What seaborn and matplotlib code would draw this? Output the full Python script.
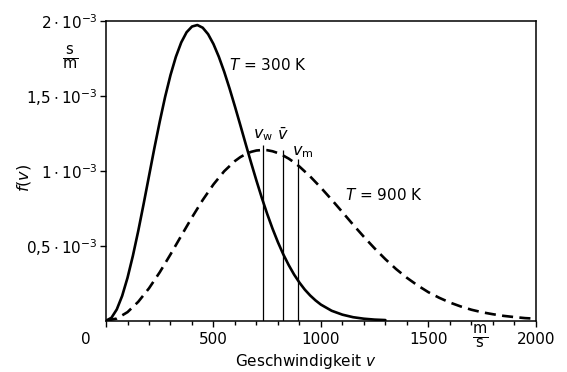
import matplotlib
matplotlib.use("Agg")
import matplotlib.pyplot as plt
import matplotlib.transforms as mtransforms
import seaborn as sns

sns.set_theme(style="ticks")
plt.rcParams["font.family"] = ["DejaVu Sans"]
plt.rcParams["mathtext.fontset"] = "dejavusans"
plt.rcParams["text.color"] = "black"

# speeds in m/s
v_300 = [0, 25, 50, 75, 100, 125, 150, 175, 200, 225, 250, 275, 300, 325, 350, 375,
         400, 425, 450, 475, 500, 525, 550, 575, 600, 625, 650, 675, 700, 725, 750,
         775, 800, 825, 850, 875, 900, 925, 950, 975, 1000, 1050, 1100, 1150, 1200,
         1250, 1300]
f_300 = [0, 0.019, 0.075, 0.165, 0.286, 0.433, 0.599, 0.779, 0.965, 1.151, 1.328,
         1.493, 1.638, 1.760, 1.856, 1.924, 1.962, 1.972, 1.954, 1.911, 1.845, 1.760,
         1.660, 1.548, 1.428, 1.304, 1.178, 1.054, 0.934, 0.819, 0.712, 0.613, 0.523,
         0.442, 0.371, 0.308, 0.254, 0.207, 0.168, 0.135, 0.107, 0.066, 0.040, 0.023,
         0.013, 0.007, 0.004]  # 1e-3 s/m

v_900 = [0, 50, 100, 150, 200, 250, 300, 350, 400, 450, 500, 550, 600, 625, 650, 675,
         700, 725, 750, 775, 800, 825, 850, 875, 900, 950, 1000, 1050, 1100, 1150,
         1200, 1250, 1300, 1350, 1400, 1450, 1500, 1550, 1600, 1650, 1700, 1750, 1800,
         1850, 1900, 1950, 2000]
f_900 = [0, 0.014, 0.057, 0.126, 0.216, 0.323, 0.442, 0.566, 0.689, 0.805, 0.909,
         0.997, 1.065, 1.091, 1.111, 1.126, 1.135, 1.138, 1.137, 1.130, 1.118, 1.101,
         1.081, 1.056, 1.028, 0.962, 0.887, 0.807, 0.724, 0.640, 0.559, 0.482, 0.410,
         0.344, 0.286, 0.235, 0.190, 0.153, 0.121, 0.095, 0.073, 0.056, 0.043, 0.032,
         0.024, 0.017, 0.013]

# characteristic speeds at 900 K: most probable, mean, rms
char_speeds = [729, 825, 892]
char_tops = [1.17, 1.14, 1.08]
char_labels = [r"$v_\mathrm{w}$", r"$\bar{v}$", r"$v_\mathrm{m}$"]

x_ticks = [0, 500, 1000, 1500, 2000]
y_ticks = [0.5, 1.0, 1.5, 2.0]
y_tick_labels = [r"$0{,}5\cdot10^{-3}$", r"$1\cdot10^{-3}$",
                 r"$1{,}5\cdot10^{-3}$", r"$2\cdot10^{-3}$"]

fig = plt.figure(figsize=(5.67, 3.72), dpi=100)
ax = fig.add_axes([0.187, 0.138, 0.758, 0.806])

sns.lineplot(x=v_300, y=f_300, ax=ax, color="black", linewidth=1.9)
sns.lineplot(x=v_900, y=f_900, ax=ax, color="black", linewidth=1.9,
             linestyle=(0, (4.2, 2.4)))
ax.vlines(char_speeds, 0, char_tops, color="black", linewidth=0.9)

for x, lab, y in zip([730, 825, 915], char_labels, [1.24, 1.24, 1.125]):
    ax.text(x, y, lab, ha="center", va="center", fontsize=11.5)

ax.text(572, 1.706, r"$T$ = 300 K", ha="left", va="center", fontsize=11)
ax.text(1110, 0.838, r"$T$ = 900 K", ha="left", va="center", fontsize=11)

ax.set_xlim(0, 2000)
ax.set_ylim(0, 2.0)
ax.set_xticks(x_ticks)
ax.set_xticks(range(0, 2001, 100), minor=True)
ax.set_xticklabels([str(t) for t in x_ticks])
ax.set_yticks(y_ticks)
ax.set_yticklabels(y_tick_labels)

ax.tick_params(axis="both", which="major", direction="out", length=4, width=1,
               labelsize=11, color="black", labelcolor="black")
ax.tick_params(axis="x", which="minor", direction="out", length=3, width=1,
               color="black")
ax.tick_params(axis="x", pad=4)
ax.tick_params(axis="y", pad=2)

# shift the "0" label to the left as in the original
first = ax.get_xticklabels()[0]
first.set_transform(first.get_transform() +
                    mtransforms.ScaledTranslation(-0.2, 0, fig.dpi_scale_trans))

for s in ax.spines.values():
    s.set_visible(True)
    s.set_color("black")
    s.set_linewidth(1.1)

ax.set_xlabel(r"Geschwindigkeit $v$", fontsize=11, color="black")
ax.xaxis.set_label_coords(0.465, -0.105)
ax.set_ylabel(r"$f(v)$", fontsize=11.5, color="black")
ax.yaxis.set_label_coords(-0.17, 0.476)

ax.text(1740, -0.105, r"$\frac{\mathrm{m}}{\mathrm{s}}$", ha="center", va="center",
        fontsize=15, transform=ax.transData)
ax.text(-0.084, 0.876, r"$\frac{\mathrm{s}}{\mathrm{m}}$", ha="center", va="center",
        fontsize=15, transform=ax.transAxes)

fig.savefig("out.png", dpi=100, facecolor="white")
